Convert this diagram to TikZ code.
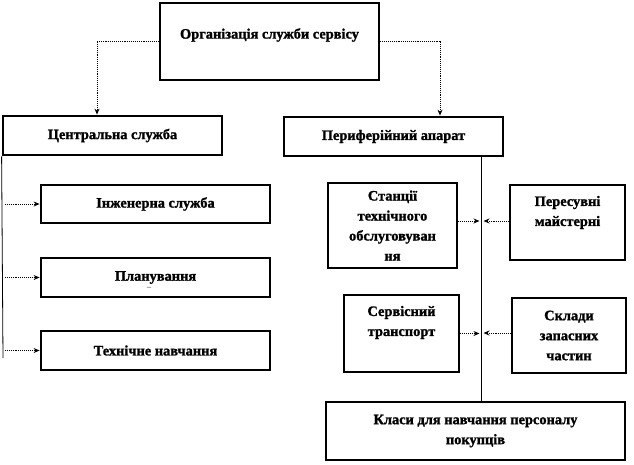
\documentclass[tikz,border=0pt]{standalone}
\usepackage{fontspec}
\setmainfont{Liberation Serif}
\newfontfamily\heavyfont[FakeBold=1.4]{Liberation Serif Bold}
\usetikzlibrary{arrows.meta}
\begin{document}
\begin{tikzpicture}[x=1pt,y=-1pt,
  box/.style={draw,line width=2.8pt,inner sep=0pt,minimum width=#1},
  txt/.style={inner sep=0pt,align=center,font=\fontsize{14.4}{20}\selectfont\heavyfont},
  conn/.style={densely dotted,line width=0.9pt,-{Stealth[length=6pt,width=5pt]}},
  plain/.style={line width=0.8pt}]
\useasboundingbox (0,0) rectangle (634,464);
% top
\node[box=219pt,minimum height=77pt] (top) at (269.5,41.5) {};
\node[txt] (topT) at ([yshift=6.5pt]top.center) {Організація служби сервісу};
% second level
\node[box=219pt,minimum height=39pt,txt] (cen) at (112.5,135.5) {Центральна служба};
\node[box=219pt,minimum height=39pt,txt] (per) at (393.5,136.5) {Периферійний апарат};
% left column
\node[box=229pt,minimum height=38pt,txt] (eng) at (155.5,204) {Інженерна служба};
\node[box=229pt,minimum height=39pt,txt] (plan) at (155.5,277.5) {Планування};
\node[inner sep=0pt,font=\fontsize{8}{8}\selectfont] (pd) at (149,288.5) {–};
\node[box=229pt,minimum height=39pt,txt] (tech) at (155.5,350.5) {Технічне навчання};
% right column
\node[box=129pt,minimum height=85pt,txt] (stan) at (392.5,225.5) {Станції\\технічного\\обслуговуван\\ня};
\node[box=115pt,minimum height=75pt] (mai) at (567.5,222.5) {};
\node[txt] (maiT) at ([yshift=10pt]mai.center) {Пересувні\\майстерні};
\node[box=115pt,minimum height=77pt] (serv) at (401.5,333.5) {};
\node[txt] (servT) at ([yshift=11pt]serv.center) {Сервісний\\транспорт};
\node[box=114pt,minimum height=75pt,txt] (skl) at (569,335.5) {Склади\\запасних\\частин};
\node[box=299pt,minimum height=58pt,txt] (kl) at (475.5,431) {Класи для навчання персоналу\\покупців};
% top connectors
\draw[conn] ([yshift=0.5pt]top.west) -| ([xshift=-15.5pt]cen.north);
\draw[conn] ([yshift=0.5pt]top.east) -| ([xshift=46.5pt]per.north);
% left vertical line
\coordinate (lbot) at (3,358);
\draw[plain] (cen.south west) -- (lbot);
\draw[conn] ([xshift=2pt]lbot |- eng.west) -- (eng.west);
\draw[conn] ([xshift=2pt]lbot |- plan.west) -- (plan.west);
\draw[conn] ([xshift=2pt]lbot |- tech.west) -- (tech.west);
% right vertical line
\coordinate (vtop) at ([xshift=87.5pt]per.south);
\coordinate (vbot) at (vtop |- kl.north);
\draw[plain] (vtop) -- (vbot);
\draw[conn] ([yshift=4.5pt]stan.east) -- ([xshift=-1.5pt,yshift=4.5pt]stan.east -| vtop);
\draw[conn] ([yshift=1.5pt]mai.west) -- ([xshift=2.5pt,yshift=1.5pt]mai.west -| vtop);
\draw[conn] (serv.east) -- ([xshift=-1.5pt]serv.east -| vtop);
\draw[conn] ([yshift=2.5pt]skl.west) -- ([xshift=2.5pt,yshift=2.5pt]skl.west -| vtop);
\end{tikzpicture}
\end{document}
